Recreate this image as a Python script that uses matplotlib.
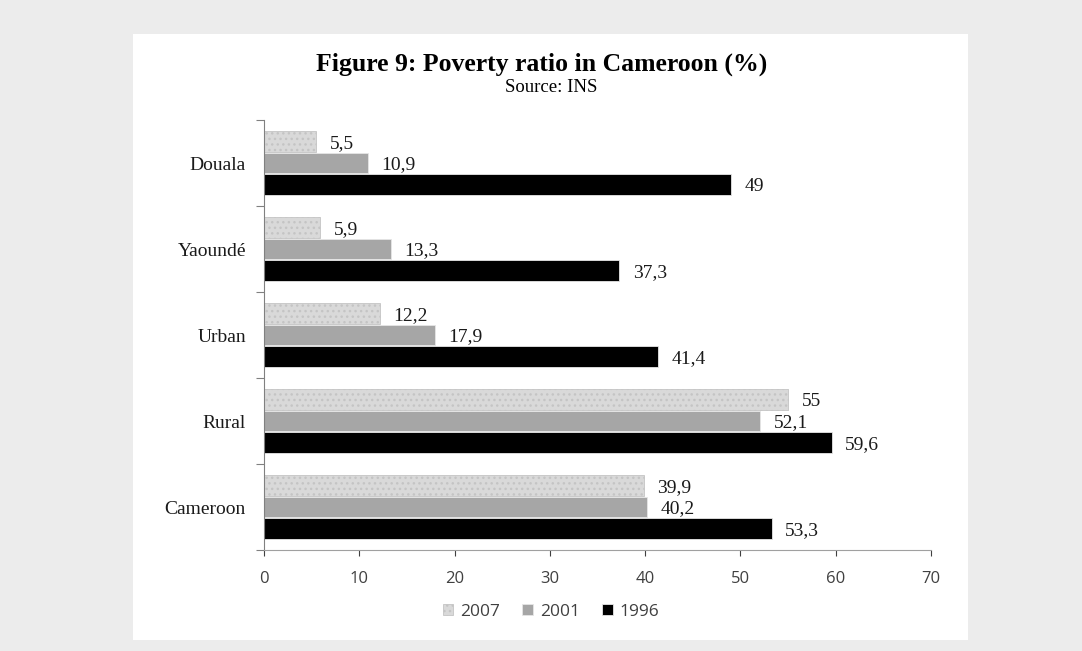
import matplotlib.pyplot as plt
import numpy as np

regions = ["Douala", "Yaoundé", "Urban", "Rural", "Cameroon"]
years = ["2007", "2001", "1996"]
v2007 = [5.5, 5.9, 12.2, 55, 39.9]
v2001 = [10.9, 13.3, 17.9, 52.1, 40.2]
v1996 = [49, 37.3, 41.4, 59.6, 53.3]
colores = ["#d9d9d9", "#a6a6a6", "#000000"]

serif = "Liberation Serif"
sans = "Open Sans"

fig = plt.figure(figsize=(10.82, 6.51), dpi=100)
fig.patch.set_facecolor("#ececec")
# panel blanco
fondo = fig.add_axes([133 / 1082, 11 / 651, 835 / 1082, 606 / 651])
fondo.set_facecolor("white")
fondo.set_xticks([])
fondo.set_yticks([])
for s in fondo.spines.values():
    s.set_visible(False)

ax = fig.add_axes([264 / 1082, 1 - 550 / 651, 667 / 1082, 430 / 651])
ax.set_facecolor("none")

y = np.arange(len(regions))
alto = 0.235
desp = 0.25
for k, (vals, col) in enumerate(zip([v2007, v2001, v1996], colores)):
    pos = y + (k - 1) * desp
    barras = ax.barh(pos, vals, height=alto, color=col, edgecolor="#e6e6e6",
                     linewidth=0.6, label=years[k], zorder=2)
    if k == 0:
        for b in barras:
            b.set_hatch("...")
            b.set_edgecolor("#c4c4c4")
    for p, v in zip(pos, vals):
        txt = str(v).replace(".", ",")
        if txt.endswith(",0"):
            txt = txt[:-2]
        ax.text(v + 1.4, p + 0.02, txt, va="center", ha="left",
                fontsize=14, family=serif, color="#1a1a1a")

ax.set_xlim(0, 70)
ax.set_ylim(4.5, -0.5)
ax.set_xticks(np.arange(0, 71, 10))
ax.tick_params(axis="x", labelsize=12, colors="#404040", length=4,
               width=0.8, pad=11)
for lab in ax.get_xticklabels():
    lab.set_family(sans)
ax.set_yticks(y)
ax.set_yticklabels(regions, family=serif, fontsize=14, color="#1a1a1a")
ax.tick_params(axis="y", length=0, pad=13)
ax.set_yticks(np.arange(-0.5, 5, 1), minor=True)
ax.tick_params(axis="y", which="minor", length=6, width=0.8, color="#808080")

for s in ["top", "right"]:
    ax.spines[s].set_visible(False)
ax.spines["left"].set_color("#808080")
ax.spines["bottom"].set_color("#a0a0a0")
ax.spines["bottom"].set_linestyle((0, (2, 1)))

fig.text(542 / 1082, 1 - 64 / 651, "Figure 9: Poverty ratio in Cameroon (%)",
         ha="center", va="center", fontsize=18.5, fontweight="bold", family=serif)
fig.text(551 / 1082, 1 - 87 / 651, "Source: INS", ha="center", va="center",
         fontsize=13.5, family=serif)

leg = ax.legend(loc="center", bbox_to_anchor=(551 / 1082, 1 - 612 / 651),
                bbox_transform=fig.transFigure, ncol=3, frameon=False,
                handlelength=0.6, handleheight=0.6, handletextpad=0.4,
                columnspacing=1.3, prop={"family": sans, "size": 12.5})
for t in leg.get_texts():
    t.set_color("#404040")

fig.savefig("out.png", dpi=100, facecolor=fig.get_facecolor())
